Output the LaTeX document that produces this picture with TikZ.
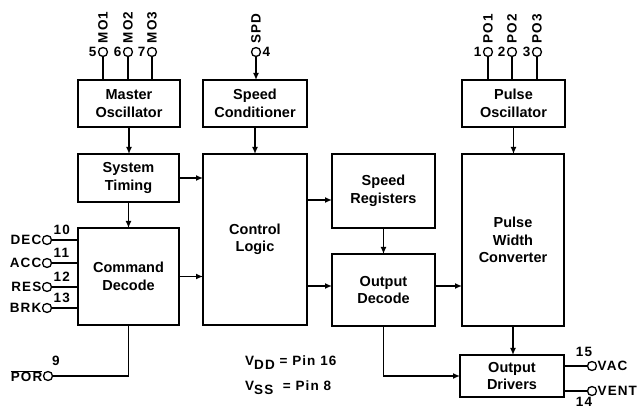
\documentclass[tikz,border=0pt]{standalone}
\usepackage{fontspec}
\setmainfont{Liberation Sans}
\newfontfamily\pinfont[LetterSpace=8]{Liberation Sans}
\usetikzlibrary{arrows.meta, positioning, calc}

\begin{document}
\begin{tikzpicture}[
    x=1pt, y=-1pt,
    block/.style={draw, line width=1.5pt, align=center, inner sep=0pt, outer sep=0pt, font=\fontsize{14.5}{17.5}\selectfont\bfseries},
    pin/.style={draw, circle, line width=1.3pt, minimum size=9pt, inner sep=0pt, outer sep=0pt},
    pinlabel/.style={font=\pinfont\fontsize{13.5}{15}\selectfont\bfseries, inner sep=1pt},
    arrow/.style={-{Latex[length=7pt,width=6pt]}, line width=1.5pt},
    wire/.style={line width=1.5pt},
]
\useasboundingbox (0,0) rectangle (641,409);

% Blocks
\node[block, minimum width=102pt, minimum height=47pt] (mosc) at (129,103.5) {Master\\Oscillator};
\node[block, minimum width=104pt, minimum height=47pt] (spdc) at (255,103.5) {Speed\\Conditioner};
\node[block, minimum width=103pt, minimum height=47pt] (posc) at (513.5,103.5) {Pulse\\Oscillator};
\node[block, minimum width=101pt, minimum height=48pt] (systim) at (128.5,178) {System\\Timing};
\node[block, minimum width=101pt, minimum height=97pt] (cmddec) at (128.5,276.5) {Command\\Decode};
\node[block, minimum width=104pt, minimum height=171pt] (ctrl) at (255,239.5) {Control\\Logic};
\node[block, minimum width=103pt, minimum height=74pt] (spdreg) at (383.5,191) {Speed\\Registers};
\node[block, minimum width=103pt, minimum height=72pt] (outdec) at (383.5,290) {Output\\Decode};
\node[block, minimum width=102pt, minimum height=172pt] (pwc) at (513,240) {Pulse\\Width\\Converter};
\node[block, minimum width=104pt, minimum height=42pt] (outdrv) at (512,376) {Output\\Drivers};

% Oscillator pins
\foreach \n/\x/\num in {1/103/5, 2/128/6, 3/152/7} {
  \node[pin] (mo\n) at (\x,52) {};
  \node[pinlabel, anchor=east] (mon\n) at ($(mo\n.west)+(-1,0)$) {\num};
  \node[pinlabel, rotate=90, anchor=west] (mol\n) at ($(mo\n.north)+(0,-3)$) {MO\n};
  \draw[wire] (mo\n) -- (mo\n |- mosc.north);
}
\foreach \n/\x/\num in {1/488/1, 2/512/2, 3/537/3} {
  \node[pin] (po\n) at (\x,52) {};
  \node[pinlabel, anchor=east] (pon\n) at ($(po\n.west)+(-1,0)$) {\num};
  \node[pinlabel, rotate=90, anchor=west] (pol\n) at ($(po\n.north)+(0,-3)$) {PO\n};
  \draw[wire] (po\n) -- (po\n |- posc.north);
}

% Speed input
\node[pin] (spd) at (256,52) {};
\node[pinlabel, anchor=west] (spdn) at ($(spd.east)+(1,0)$) {4};
\node[pinlabel, rotate=90, anchor=west] (spdl) at ($(spd.north)+(0,-3)$) {SPD};
\draw[arrow] (spd) -- (spd |- spdc.north);

% Command inputs
\foreach \nm/\y/\num in {DEC/240/10, ACC/263/11, RES/287/12, BRK/308/13} {
  \node[pin] (p\nm) at (47,\y) {};
  \node[pinlabel, anchor=east] (l\nm) at (p\nm.west) {\nm};
  \node[pinlabel, anchor=south west] (n\nm) at ($(p\nm.east)+(1,-4)$) {\num};
  \draw[wire] (p\nm) -- (p\nm -| cmddec.west);
}

% Power on reset
\node[pin] (por) at (48,376) {};
\node[pinlabel, anchor=east] (porl) at (por.west) {$\overline{\hbox{POR}}$};
\node[pinlabel] (porn) at (56,361) {9};
\draw[wire] (cmddec.south) |- (por);

% Outputs
\node[pin] (vac) at (592,366) {};
\node[pinlabel, anchor=west] (vacl) at (vac.east) {VAC};
\node[pinlabel] (vacn) at (584,352) {15};
\node[pin] (vent) at (592,391) {};
\node[pinlabel, anchor=west] (ventl) at (vent.east) {VENT};
\node[pinlabel] (ventn) at (584,402) {14};
\draw[wire] (vac -| outdrv.east) -- (vac);
\draw[wire] (vent -| outdrv.east) -- (vent);

% Supply note
\node[pinlabel, anchor=west] (vdd) at (244,363) {V\raisebox{-4pt}{DD} = Pin 16};
\node[pinlabel, anchor=west] (vss) at (244,388) {V\raisebox{-4pt}{SS}\ \ = Pin 8};

% Signal flow
\draw[arrow] (mosc.south) -- (mosc.south |- systim.north);
\draw[arrow] (spdc) -- (ctrl);
\draw[arrow] (posc.south) -- (posc.south |- pwc.north);
\draw[arrow] (systim) -- (cmddec);
\draw[arrow] (systim.east) -- (systim.east -| ctrl.west);
\draw[arrow] (cmddec.east) -- (cmddec.east -| ctrl.west);
\draw[arrow] ([yshift=-9pt]spdreg.west -| ctrl.east) -- ([yshift=-9pt]spdreg.west);
\draw[arrow] ([yshift=4pt]outdec.west -| ctrl.east) -- ([yshift=4pt]outdec.west);
\draw[arrow] (spdreg) -- (outdec);
\draw[arrow] ([yshift=4pt]outdec.east) -- ([yshift=4pt]outdec.east -| pwc.west);
\draw[arrow] (pwc.south) -- (pwc.south |- outdrv.north);
\draw[arrow] (outdec.south) |- (outdrv.west);

\end{tikzpicture}
\end{document}
